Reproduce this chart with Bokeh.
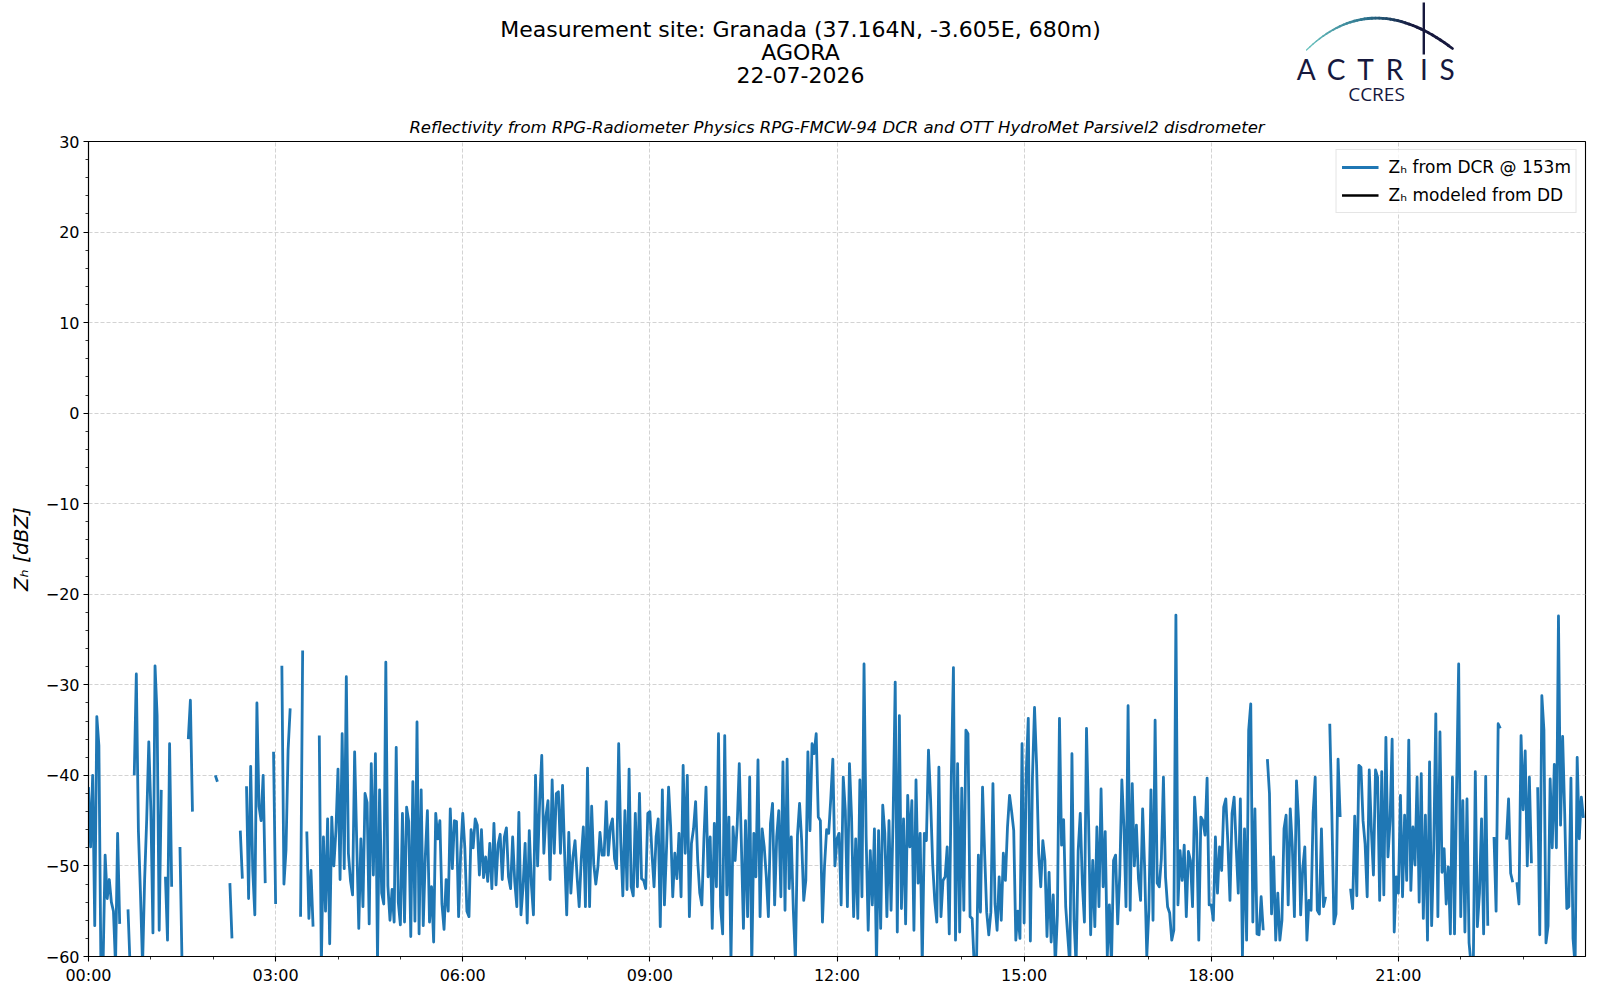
import numpy as np
from bokeh.plotting import figure
from bokeh.models import Range1d, FixedTicker, Legend, LegendItem
from bokeh.layouts import column
from bokeh.embed import file_html
from bokeh.resources import INLINE
from bokeh.core.properties import value

# ---------------- texts ----------------
suptitle_lines = ["Measurement site: Granada (37.164N, -3.605E, 680m)", "AGORA", "22-07-2026"]
subtitle = "Reflectivity from RPG-Radiometer Physics RPG-FMCW-94 DCR and OTT HydroMet Parsivel2 disdrometer"
y_label = "Z\u2095 [dBZ]"
legend_labels = ["Z\u2095 from DCR @ 153m", "Z\u2095 modeled from DD"]
logo_letters = ["A", "C", "T", "R", "I", "S"]
logo_sub = "CCRES"

x_tick_hours = [0, 3, 6, 9, 12, 15, 18, 21]
x_tick_labels = ["00:00", "03:00", "06:00", "09:00", "12:00", "15:00", "18:00", "21:00"]
x_minor_hours = list(range(0, 24))
y_ticks = [-60, -50, -40, -30, -20, -10, 0, 10, 20, 30]
y_tick_labels = ["\u221260", "\u221250", "\u221240", "\u221230", "\u221220", "\u221210", "0", "10", "20", "30"]
y_minor = list(range(-60, 31, 2))

# ---------------- data: Z_H from DCR, 2-minute samples, one list per 3-hour block ----------------
sample_step_h = 2.0 / 60.0
block_start_hours = [0, 3, 6, 9, 12, 15, 18, 21]

zh_00_03 = [
    -41.3, -47.9, -40.0, -56.6, -33.5, -36.7, -62.0, -61.0, -48.8, -53.6,
    -51.5, -54.0, -55.0, -61.0, -46.4, -56.4, None, None, None, -54.8,
    -61.0, None, -40.0, -28.8, -46.1, -53.1, -61.0, -51.5, -44.8, -36.3,
    -43.9, -57.4, -27.9, -33.4, -57.1, -41.6, None, -51.2, -58.2, -36.5,
    -52.3, None, None, None, -47.9, -61.0, None, None, -36.0, -31.7,
    -44.0, None, None, None, None, None, None, None, None, None,
    None, -40.0, -40.7, None, None, None, None, None, -51.9, -58.0,
    None, None, None, -46.1, -51.4, None, -41.2, -53.6, -39.0, -50.5,
    -55.4, -32.0, -43.4, -45.0, -40.0, -51.9, None, None, None, -37.4,
]
zh_03_06 = [
    -54.2, None, None, -27.9, -52.0, -48.2, -37.2, -32.6, None, None,
    None, None, -55.6, -26.2, None, -46.2, -55.8, -50.5, -56.7, None,
    None, -35.6, -61.0, -46.8, -55.0, -44.8, -58.6, -44.6, -50.0, -46.1,
    -39.3, -51.5, -35.4, -50.3, -29.1, -48.6, -51.6, -53.2, -37.4, -47.3,
    -56.9, -47.0, -54.5, -42.0, -43.0, -56.4, -38.7, -51.0, -37.6, -60.5,
    -41.6, -53.0, -54.2, -27.5, -52.2, -56.0, -52.6, -56.2, -36.9, -54.0,
    -56.5, -44.2, -56.2, -43.5, -45.1, -57.8, -40.7, -56.1, -34.1, -57.5,
    -41.6, -56.6, -48.9, -43.9, -56.2, -52.3, -58.4, -44.2, -47.0, -45.0,
    -54.2, -57.0, -51.5, -55.0, -43.7, -50.3, -45.0, -45.1, -55.6, -48.6,
]
zh_06_09 = [
    -44.2, -48.0, -55.0, -55.6, -46.0, -48.0, -44.8, -45.5, -51.0, -46.0,
    -51.3, -49.0, -51.7, -47.5, -52.5, -45.3, -52.1, -47.6, -46.5, -51.5,
    -46.8, -45.8, -51.2, -52.5, -46.8, -51.7, -54.5, -44.1, -55.4, -52.3,
    -47.5, -56.3, -46.1, -52.0, -55.4, -40.0, -50.0, -42.8, -37.8, -48.6,
    -44.5, -42.8, -51.5, -40.5, -48.6, -42.0, -41.8, -48.6, -41.1, -48.7,
    -55.4, -46.3, -53.0, -49.0, -47.2, -51.2, -54.5, -49.2, -45.7, -54.5,
    -39.2, -54.5, -43.4, -49.8, -52.0, -50.1, -46.3, -48.8, -48.8, -42.9,
    -48.8, -45.7, -44.8, -49.2, -50.3, -36.5, -47.4, -53.3, -43.9, -52.6,
    -39.3, -52.3, -53.3, -44.2, -52.3, -42.0, -51.4, -51.6, -52.5, -44.2,
]
zh_09_12 = [
    -44.0, -48.6, -52.3, -46.8, -44.8, -56.7, -41.6, -54.3, -48.1, -41.3,
    -45.7, -53.4, -48.6, -51.4, -46.4, -53.4, -38.9, -48.6, -40.0, -55.6,
    -47.5, -45.9, -42.9, -49.4, -53.0, -54.3, -47.0, -41.3, -51.2, -46.8,
    -56.9, -45.3, -52.3, -35.4, -54.5, -57.5, -35.6, -53.2, -44.6, -60.5,
    -45.7, -49.4, -45.5, -38.7, -47.5, -56.9, -45.0, -55.6, -40.2, -61.0,
    -46.4, -51.2, -38.3, -55.6, -45.9, -47.9, -51.2, -55.6, -45.3, -43.1,
    -54.3, -46.8, -43.9, -53.4, -38.5, -54.9, -38.2, -52.5, -46.8, -54.9,
    -60.5, -46.6, -43.1, -47.2, -53.8, -51.6, -37.4, -46.1, -36.5, -37.6,
    -35.4, -44.6, -45.0, -56.2, -50.0, -46.0, -46.4, -42.6, -38.2, -50.0,
]
zh_12_15 = [
    -47.0, -46.4, -54.3, -40.2, -43.9, -54.5, -38.7, -44.6, -55.6, -47.0,
    -55.8, -40.5, -53.4, -27.7, -46.6, -57.1, -48.3, -54.3, -45.9, -61.0,
    -46.1, -56.9, -43.3, -46.4, -55.6, -45.0, -54.9, -44.6, -29.7, -57.3,
    -33.4, -54.7, -44.8, -56.4, -42.2, -47.9, -42.8, -57.1, -40.5, -51.9,
    -46.4, -61.0, -46.4, -47.2, -37.2, -42.6, -49.7, -53.8, -56.2, -39.1,
    -55.6, -51.6, -51.2, -47.9, -57.5, -40.0, -28.1, -58.2, -38.7, -57.3,
    -41.4, -54.9, -35.0, -35.4, -55.6, -55.8, -61.0, -62.0, -48.8, -55.1,
    -41.3, -48.6, -55.1, -57.6, -55.1, -40.9, -54.2, -57.1, -51.2, -56.0,
    -48.6, -51.6, -45.7, -42.2, -44.0, -46.1, -58.2, -55.0, -58.0, -36.5,
]
zh_15_18 = [
    -56.3, -39.8, -33.7, -58.3, -40.2, -32.5, -38.9, -48.6, -52.3, -47.2,
    -49.4, -57.8, -50.7, -58.4, -53.2, -61.0, -55.4, -33.7, -47.7, -44.9,
    -54.5, -57.8, -61.0, -37.6, -56.0, -61.0, -48.3, -44.2, -51.9, -56.2,
    -34.8, -45.0, -57.6, -49.4, -56.7, -45.7, -54.5, -41.5, -52.3, -46.2,
    -60.0, -54.3, -61.0, -49.4, -48.8, -56.4, -51.0, -40.5, -45.7, -54.5,
    -32.3, -54.9, -40.9, -50.0, -45.5, -51.4, -53.8, -43.7, -50.5, -60.0,
    -54.9, -41.6, -56.0, -33.9, -51.9, -52.3, -49.2, -40.2, -51.2, -54.5,
    -55.2, -58.2, -57.1, -22.3, -54.3, -48.3, -51.6, -47.7, -55.6, -48.4,
    -49.4, -54.5, -42.4, -46.4, -58.2, -44.6, -45.0, -46.6, -40.3, -54.3,
]
zh_18_21 = [
    -54.3, -56.0, -46.8, -53.0, -47.9, -50.5, -43.5, -42.6, -47.5, -53.8,
    -44.2, -42.4, -47.9, -53.0, -42.6, -60.0, -45.9, -58.2, -35.0, -32.1,
    -56.2, -43.7, -57.5, -57.6, -53.4, -57.1, None, -38.2, -42.0, -55.3,
    -49.0, -58.2, -53.0, -58.2, -56.0, -45.9, -44.4, -54.3, -43.7, -47.9,
    -55.6, -40.6, -45.0, -55.4, -50.3, -47.9, -58.2, -53.8, -54.9, -44.1,
    -40.2, -54.9, -55.3, -45.9, -54.5, -53.4, None, -34.3, -44.2, -56.4,
    -55.3, -38.2, -44.6, None, None, None, None, -52.5, -54.7, -44.5,
    -53.3, -38.9, -39.1, -45.0, -47.6, -53.4, -39.4, -46.0, -51.0, -39.4,
    -40.2, -53.8, -39.6, -53.2, -35.8, -49.0, -45.0, -36.0, -57.3, -51.2,
]
zh_21_24 = [
    -53.0, -42.2, -53.4, -44.4, -51.6, -36.1, -52.7, -45.7, -49.9, -40.2,
    -54.0, -39.8, -55.8, -44.4, -58.2, -38.5, -56.6, -48.1, -33.2, -55.6,
    -35.2, -50.7, -48.1, -54.2, -50.1, -57.5, -40.2, -57.5, -41.3, -27.7,
    -55.6, -42.8, -57.3, -42.6, -58.5, -61.0, -62.0, -39.6, -56.7, -53.0,
    -44.8, -57.5, -40.1, -56.6, None, None, -46.8, -55.0, -34.3, -34.8,
    None, None, -47.1, -42.6, -50.8, -51.8, None, -51.8, -54.2, -35.6,
    -43.8, -37.3, -50.0, -40.2, -49.7, None, None, -41.3, -57.6, -31.2,
    -35.0, -58.5, -56.6, -40.4, -48.0, -38.8, -48.0, -22.4, -45.5, -35.7,
    -44.2, -54.7, -54.5, -40.3, -58.0, -61.0, -38.0, -47.0, -42.4, -44.7,
]
zh_blocks = [zh_00_03, zh_03_06, zh_06_09, zh_09_12, zh_12_15, zh_15_18, zh_18_21, zh_21_24]

hours = np.concatenate([start + np.arange(len(b)) * sample_step_h
                        for start, b in zip(block_start_hours, zh_blocks)])
zh = np.array([v for b in zh_blocks for v in b], dtype=float)

# Z_H modeled from the disdrometer: no valid (non-missing) samples on this day
zh_dd = np.full(len(hours), np.nan)

# ---------------- styling ----------------
FONT = "DejaVu Sans"
NAVY = "#16183d"
W = 1592
HEADER_H = 108
MAIN_H = 884
BORDER_L = 88
BORDER_R = 7

# ---------------- header (suptitle + logo), coordinates = page pixels ----------------
header = figure(width=W, height=HEADER_H, x_range=Range1d(BORDER_L, W - BORDER_R),
                y_range=Range1d(HEADER_H, 0),
                toolbar_location=None, output_backend="svg",
                min_border_left=BORDER_L, min_border_right=BORDER_R,
                min_border_top=0, min_border_bottom=0,
                x_axis_location=None, y_axis_location=None, outline_line_color=None)
header.grid.visible = False
header.background_fill_color = "white"
header.border_fill_color = "white"

header.text(x=[800, 800, 800], y=[28.6, 52.0, 74.5], text=suptitle_lines,
            text_align="center", text_baseline="middle", text_font=value(FONT),
            text_font_size="22px", text_color="black")

# logo arc (teal -> navy)
tt = np.linspace(0, 1, 41)
p0, p1, p2 = np.array([1306.0, 49.5]), np.array([1371.0, -13.5]), np.array([1452.0, 48.0])
pts = ((1 - tt) ** 2)[:, None] * p0 + (2 * (1 - tt) * tt)[:, None] * p1 + (tt ** 2)[:, None] * p2
stops_t = [0.0, 0.45, 0.75, 1.0]
stops_c = np.array([[108, 197, 192], [42, 112, 140], [22, 24, 61], [22, 24, 61]], dtype=float)
mid = 0.5 * (tt[:-1] + tt[1:])
cols = []
for m in mid:
    rgb = [np.interp(m, stops_t, stops_c[:, k]) for k in range(3)]
    cols.append("#%02x%02x%02x" % tuple(int(round(c)) for c in rgb))
widths = list(1.2 + 1.6 * np.minimum(mid / 0.4, 1.0))
header.segment(x0=pts[:-1, 0], y0=pts[:-1, 1], x1=pts[1:, 0], y1=pts[1:, 1],
               line_color=cols, line_width=widths, line_cap="round")
header.segment(x0=[1423.3], y0=[2], x1=[1423.3], y1=[54], line_color=NAVY, line_width=2.4)
header.text(x=[1305.7, 1335.7, 1365.0, 1394.0, 1423.3, 1446.7], y=[68.5] * 6, text=logo_letters,
            text_align="center", text_baseline="middle", text_font=value("Lato"),
            text_font_size="28px", text_color=NAVY)
header.text(x=[1376], y=[93.5], text=[logo_sub], text_align="center", text_baseline="middle",
            text_font=value("Open Sans"), text_font_size="19px", text_color=NAVY)

# ---------------- main plot ----------------
p = figure(width=W, height=MAIN_H, x_range=Range1d(0, 24), y_range=Range1d(-60, 30),
           toolbar_location=None, output_backend="svg", title=subtitle,
           min_border_left=BORDER_L, min_border_right=BORDER_R, min_border_top=33, min_border_bottom=36)
p.background_fill_color = "white"
p.border_fill_color = "white"
p.outline_line_color = "black"
p.outline_line_width = 1.1
p.outline_line_alpha = 1.0

p.title.align = "center"
p.title.text_font = FONT
p.title.text_font_style = "italic"
p.title.text_font_size = "16.5px"
p.title.text_color = "black"

p.xaxis.ticker = FixedTicker(ticks=x_tick_hours, minor_ticks=x_minor_hours)
p.yaxis.ticker = FixedTicker(ticks=y_ticks, minor_ticks=y_minor)
p.xaxis.major_label_overrides = {h: lab for h, lab in zip(x_tick_hours, x_tick_labels)}
p.yaxis.major_label_overrides = {v: lab for v, lab in zip(y_ticks, y_tick_labels)}

for ax in (p.xaxis[0], p.yaxis[0]):
    ax.axis_line_color = "black"
    ax.axis_line_width = 1.1
    ax.major_tick_line_color = "black"
    ax.major_tick_line_width = 1.1
    ax.major_tick_out = 5
    ax.major_tick_in = 0
    ax.minor_tick_line_color = "black"
    ax.minor_tick_line_width = 0.8
    ax.minor_tick_out = 3
    ax.minor_tick_in = 0
    ax.major_label_text_font = FONT
    ax.major_label_text_font_size = "16px"
    ax.major_label_text_color = "black"
    ax.major_label_standoff = 4

p.yaxis.axis_label = y_label
p.yaxis.axis_label_text_font = FONT
p.yaxis.axis_label_text_font_style = "italic"
p.yaxis.axis_label_text_font_size = "20px"
p.yaxis.axis_label_text_color = "black"
p.yaxis.axis_label_standoff = 10

p.grid.grid_line_color = "#d3d3d3"
p.grid.grid_line_dash = "4 2"
p.grid.grid_line_width = 1

r_dcr = p.line(hours, zh, line_color="#1f77b4", line_width=2.8, line_join="round")
r_dd = p.line(hours, zh_dd, line_color="black", line_width=2.5)

legend = Legend(items=[LegendItem(label=legend_labels[0], renderers=[r_dcr]),
                       LegendItem(label=legend_labels[1], renderers=[r_dd])],
                location="top_right")
legend.label_text_font = FONT
legend.label_text_font_size = "17px"
legend.label_text_color = "black"
legend.glyph_width = 37
legend.glyph_height = 24
legend.label_height = 24
legend.label_standoff = 10
legend.spacing = 4
legend.padding = 5
legend.margin = 8
legend.border_line_color = "#cccccc"
legend.border_line_width = 1
legend.background_fill_color = "white"
legend.background_fill_alpha = 0.8
p.add_layout(legend)

layout = column(header, p)
open("out.html", "w").write(file_html(layout, INLINE))
